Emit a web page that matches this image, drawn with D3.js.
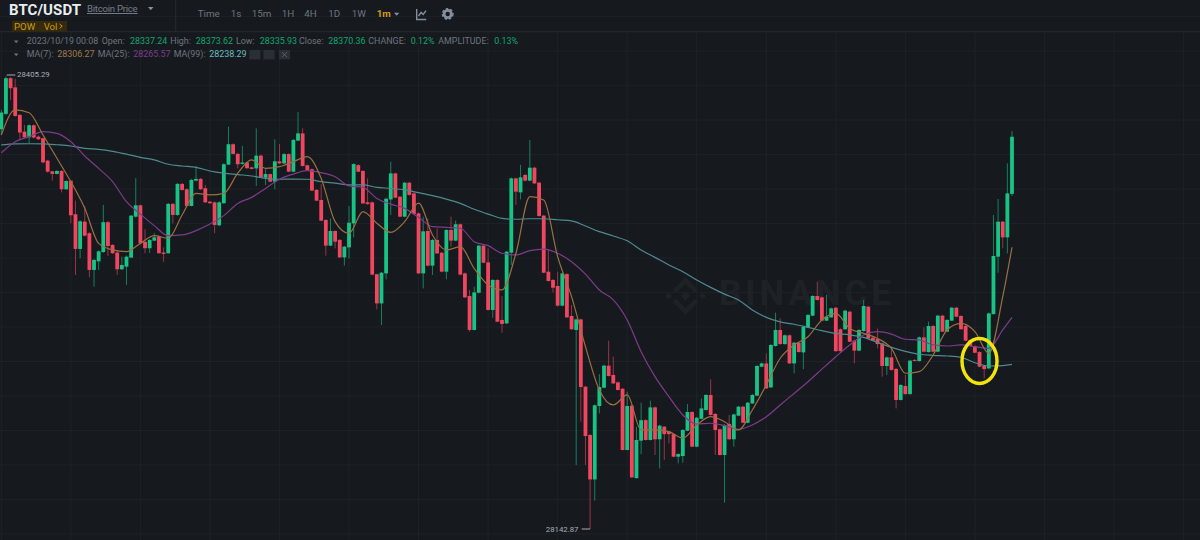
<!DOCTYPE html>
<html>
<head>
<meta charset="utf-8">
<script src="https://cdn.jsdelivr.net/npm/d3@7"></script>
<style>
  html, body { margin: 0; background: #161a1f; }
  text { font-family: Roboto, sans-serif; }
</style>
</head>
<body>
<div id="dataviz"></div>
<script>
// prices are stored as offsets above this base
const priceBase = 28000;
const highPrice = 28405.29, lowPrice = 28142.87;

const opens = [
  374.7,383.6,404.3,399,383,373.3,370,377,370.4,369.5,
  356.5,350.3,348.8,350.5,339.9,344.9,325.4,305.3,321.1,314.4,
  293.1,298.1,303.5,320.8,307.6,303.2,293.5,295,300.3,324,
  330.6,309.4,305.7,310.1,312.4,303.2,302.8,331.4,325,343,
  339.9,330.2,344.9,345.9,340.5,332.7,332.3,319,331.8,354.2,
  366,360.4,354.6,355.4,352.6,352,359.4,346.6,348.7,344.3,
  356.1,354.9,360.3,350.1,368.1,372.3,353.8,351.5,339.5,333.7,
  322.1,307.2,315.7,310.5,300.4,306.2,320.1,353.9,350.5,332.3,
  332.3,290.6,273.7,291.1,334,349.1,335.6,324,343.7,337.5,
  325.9,291.1,315.7,295.6,310.5,303.1,292.1,316.3,310.1,319.6,
  291.1,278,258.3,279.9,307.2,297.5,269.9,287.3,264.1,262.1,
  303.1,346.2,338.1,348.2,344.9,352.4,343.7,324.6,292.1,287.3,
  283.8,272.4,290.7,266.4,258.3,264.4,225.4,197.4,171.6,214.2,
  224.8,237.6,232.2,227.9,224.2,188.7,214.4,172.4,194.1,206,
  194.5,213.4,194.9,202.2,199.3,197.9,184.8,185.2,199.9,210.7,
  190.6,206.8,211.9,220.6,209.6,200.7,185.8,203.8,194.9,208.6,
  213.8,204.5,215.7,220.2,237,238.9,225,249,258.3,250.1,
  255.2,238.9,250.9,245.3,259.8,266.6,278,277.2,263.7,265.6,
  271.2,258.7,258.7,268.9,252.1,246.3,257.7,271.8,253.8,253,
  250.5,237.4,242.4,235.7,217.7,225.8,221.1,240.9,240.3,254,
  245.5,260.6,245.7,266.6,257.3,263.7,271.2,266.4,260.6,252.5,
  249,245.5,237.4,236,267.5,300.8,321.1,312,337.24
];
const closes = [
  384.4,404.3,398.5,382.4,372.8,370,377,369.9,368.9,355.5,
  350.1,348.8,350.5,339.9,344.7,324.8,305.3,321.3,313,293.1,
  298.9,303.9,320.8,307,302.8,293.5,296,300.8,324.6,330.6,
  308.6,305.7,310.5,312,302.8,302.4,331.4,325,343,339.5,
  330.2,345.3,345.9,339.9,332.3,331.8,319.2,332.3,354.4,366,
  360.4,354.4,355.4,352.1,351.7,359.4,346.8,348.7,344.3,356.1,
  354.9,360.3,350.1,368.5,372.3,353.4,351.1,339.1,333.3,321.7,
  307.2,315.7,309.5,300.4,306.6,320.5,354.5,350.1,331.7,331.3,
  290.4,273.7,291.5,334.4,349.1,335,324,343.7,336.6,325.5,
  291.1,315.5,295.6,310.5,302.7,292.1,316.3,310.1,319.6,290.4,
  277.2,258.3,280.1,307.2,297.3,269.9,287.3,263.1,261.8,303.7,
  346.2,338.5,346.8,344.9,352.4,343.3,324.4,291.5,286.7,282.8,
  272.4,291.1,265.6,258.7,264.4,225.2,196.8,171.6,214.6,225.2,
  237.6,231.6,227.3,223.5,188.7,214.2,172.8,194.5,206,194.5,
  213.4,194.9,202.8,197.9,197.9,184.8,186.3,200.3,210.7,190.6,
  207.4,212.8,220.6,209,200.3,185.8,203.2,194.9,209.3,213.8,
  204.5,216.1,220.6,237.4,238.9,224.4,249.6,258.3,250.1,255.2,
  238.9,250.9,245.5,260.2,267,278,275.7,263.7,266,270.8,
  246,246,269.5,251.5,246.3,258.3,272.2,253.4,252.1,250.1,
  237.4,242.4,235.1,217.7,226.4,221.1,240.5,240.5,254,245.7,
  260.6,245.7,266.6,257.3,264.1,271.2,266,258.7,252.1,249,
  245.1,237,235.6,267.9,301.2,321.1,312,337.5,370.36
];
const highs = [
  386,405.29,404.9,404,383.5,377.2,377.5,377.5,371,370,
  357,350.5,351,351,345,345,333.3,322,330.2,315,
  299.5,304.5,330.8,321.5,308,304,300.8,301.5,325,346.3,
  331,316.7,311,314.4,313,306.2,332,332,343.5,343.5,
  340.5,346,353.4,346.5,342.4,333,332.8,333,355,376.2,
  366.5,361,365,355.8,353,375.2,360,351.5,349,368.9,
  366.1,360.8,360.8,369,384.7,375.2,354.2,352,340,342.9,
  322.5,323,316,311,307,330.2,355,354.4,351,346.2,
  332.8,291,292,335,355.9,349.5,336,344.2,344.2,338,
  326.4,324,323,311,317.2,303.6,316.8,324,321.7,320,
  291.6,281.5,283.4,307.7,307.7,305.6,287.8,287.8,278,304.2,
  346.7,346.7,354,348.7,368.5,352.9,344.2,325,304.7,287.8,
  292.1,291.6,291.2,272.8,264.9,264.9,225.9,197.9,215.1,232.7,
  238.1,252.1,242.8,228.4,224.7,222.5,214.9,202.2,216.1,206.5,
  217.3,213.9,203.3,202.7,199.8,198.4,186.8,200.8,215.3,211.2,
  207.9,218.6,221.1,229.6,210.1,201.2,203.7,209,209.8,214.3,
  214.3,216.6,221.1,237.9,239.4,244.7,250.1,268.3,265,255.7,
  255.7,251.4,251.4,260.7,267.5,278.5,286.3,277.7,278.6,271.3,
  271.7,259.2,270,269.4,252.6,258.8,275.7,272.3,254.3,259.2,
  251,242.9,248.6,236.2,226.9,232.2,241,241.4,254.5,259.8,
  263.1,261.1,267.1,267.1,264.6,271.7,271.7,266.9,261.1,253,
  249.5,246,237.9,268.4,325,334.2,321.6,354.9,373.62
];
const lows = [
  371.4,383,391.7,382,368.5,369.5,366.6,369.4,368.5,355,
  349.5,344.9,348.5,338.1,339.5,320.2,290.2,299.9,312.5,288.9,
  283.4,293.1,303,301.2,302.5,290.2,293,284.4,300,323.5,
  308,302.8,303,310,302.5,297.9,302.5,320.2,324.5,339,
  329.5,330,344.5,339.5,332,331.5,314.4,318.5,331.5,354,
  360,352.1,354.2,351.8,351.5,341.8,346.5,342.4,344,339.9,
  354.5,354.5,349.8,349.8,367.8,353,350.8,338.8,333,321.4,
  301.4,307,305.6,300,295.6,299.8,312,349.8,331.4,331,
  290,270.2,261.2,287.7,325,334.7,323.7,323.7,336.2,325.2,
  290.8,282.4,295.2,290.2,302.4,291.8,287.7,306.6,309.8,290,
  276.8,257.3,258,279.5,297,269.6,265.4,262.8,256.7,261.8,
  296,330.8,334,344.5,344.5,343,324,291.2,286.4,279.9,
  272,272,265.3,258.4,180,205.1,180,142.87,159.3,209.9,
  224.5,231.3,227,223.2,188.4,188.4,172.5,172,186.3,194.2,
  194.2,185.8,178,182.9,192.5,184.5,180.9,181.3,199.6,190.3,
  190.3,206.5,211.6,208.7,185.8,185.5,158.1,194.6,190.6,208.3,
  204.2,204.2,215.4,219.9,236.7,224.1,224.7,248.7,249.8,249.8,
  238.6,233.1,245.2,235.6,259.5,266.3,275.4,263.4,263.4,265.3,
  245.7,245.7,258.4,251.2,238.9,246,257.4,253.1,251.8,247.6,
  231.2,232.2,234.8,212.8,217.4,220.8,220.8,240.2,240,245.4,
  245.2,245.4,245.4,257,257,263.4,265.7,258.4,251.8,248.7,
  244.8,236.7,230.2,235.7,267.2,291.5,305.6,302.7,335.93
];

const maIndex = d3.range(0, 217, 3).concat([218]);
const ma7 = [
  371.4,385.9,384.3,371.4,357.9,344.3,328.9,308.5,304.7,303.7,308.5,313,311.4,325,337.5,336.6,337.5,349.2,356.9,
  352,353,355.9,358.8,346.2,321.1,314.3,326.9,320.2,314.9,321.1,331.8,313.4,304.7,306.6,294,284.4,281.5,
  302.7,335.6,333.7,300.8,277.6,248.6,223.5,214.8,220.6,200.3,200.3,199.3,195.5,203.2,208,205.1,200.3,211.9,
  226.4,241.9,249.6,254.4,264.1,267.9,259.2,256.3,253.4,247.6,233.2,234.1,243.8,258.3,262.1,257.3,244.7,277.6,
  306.27
];
const ma25 = [
  361.1,367.5,370.4,373.3,372.3,367.5,359.2,352,344.3,332.7,325.5,318.8,313,313.4,315.9,319.7,324.6,331.7,335.2,
  340.4,345.7,348.7,350.7,349.5,347.2,341.8,341,334.6,331.3,328.8,323.6,318.2,317.8,317.3,309.5,307.2,302.8,
  301.8,304.3,305.2,302.8,297.9,290.7,281.5,275.7,264.1,245.7,231.2,219.6,209,203.7,204.2,202.8,200.7,203.2,
  208,214.8,221.5,228.3,235.6,242.8,249.6,255.4,257.3,255.9,252.9,252.5,249.6,249,249.6,248.6,247.6,258.3,
  265.57
];
const ma99 = [
  365.6,366.2,366.3,366.2,365.7,365,363.6,363,361.9,360.3,358.4,356.9,354.4,353.4,352.6,350.5,349.2,348.4,347.6,
  346.2,345.7,345.8,345.7,344.3,343.4,342.4,342.4,341,340.4,339.5,337.9,336.2,334.2,331.7,328.3,325.5,323,
  322.5,322.8,322.8,322.2,321.6,318.6,315.3,312.8,310,304.7,300.4,296,292.1,287.3,283,279.1,275.7,269.9,
  265.6,263,261.6,259.8,257.9,256.3,255.5,254,251.1,248.2,245.9,244.2,243.6,243.2,242.4,239.3,237.4,237.6,
  238.29
];

const toolbarLabels = ["Time", "1s", "15m", "1H", "4H", "1D", "1W", "1m"];
const toolbarX = [197.7, 230.7, 251.7, 281.7, 304.3, 328.3, 351.7, 376.7];

const green = "#18c485", red = "#f0465f", greyText = "#6f757e", valueGreen = "#14a56f";
const ma7Color = "#9a7043", ma25Color = "#7e3b8a", ma99Color = "#4f8a8e";
const gridColor = "#1e2227", lineColor = "#262a31";

const width = 1200, height = 540;
const svg = d3.select("#dataviz").append("svg")
    .attr("width", width).attr("height", height)
    .style("display", "block").style("background", "#161a1f");

const x = d3.scaleLinear().domain([0, 218]).range([1.3, 1012]);
const y = d3.scaleLinear().domain([lowPrice, highPrice]).range([529, 76.5]);
const candles = opens.map((o, i) => ({
  i, open: priceBase + o, close: priceBase + closes[i],
  high: priceBase + highs[i], low: priceBase + lows[i]
}));

// grid: a line every 15 candles and every 20 USD
svg.append("g").selectAll("line").data(d3.range(0, 270, 15)).join("line")
    .attr("x1", d => x(d)).attr("x2", d => x(d)).attr("y1", 32).attr("y2", height)
    .attr("stroke", gridColor);
svg.append("g").selectAll("line").data(d3.range(28120, 28460, 20)).join("line")
    .attr("x1", 0).attr("x2", width).attr("y1", d => y(d)).attr("y2", d => y(d))
    .attr("stroke", gridColor);

// watermark
const mark = svg.append("g").attr("fill", "#1e2227");
mark.append("text").attr("x", 719).attr("y", 305).attr("font-size", 35).attr("font-weight", 700)
    .attr("textLength", 172).attr("lengthAdjust", "spacing").text("BINANCE");
const logoX = 685.5, logoY = 296;
[[-17, 0, 3.6], [17, 0, 3.6], [0, 0, 4.8]].forEach(([dx, dy, r]) => {
  const cx = logoX + dx, cy = logoY + dy;
  mark.append("path").attr("d", `M${cx} ${cy - r}L${cx + r} ${cy}L${cx} ${cy + r}L${cx - r} ${cy}Z`);
});
[-1, 1].forEach(s => {
  mark.append("path")
      .attr("d", `M${logoX - 11} ${logoY + s * 4.5}L${logoX} ${logoY + s * 15.5}L${logoX + 11} ${logoY + s * 4.5}`)
      .attr("fill", "none").attr("stroke", "#1e2227").attr("stroke-width", 5);
});

// candles
const color = d => d.close >= d.open ? green : red;
svg.append("g").selectAll("line").data(candles).join("line")
    .attr("x1", d => x(d.i)).attr("x2", d => x(d.i))
    .attr("y1", d => y(d.high)).attr("y2", d => y(d.low))
    .attr("stroke", color).attr("stroke-width", 1).attr("stroke-opacity", 0.6);
svg.append("g").selectAll("rect").data(candles).join("rect")
    .attr("x", d => x(d.i) - 1.9).attr("width", 3.8)
    .attr("y", d => y(Math.max(d.open, d.close)))
    .attr("height", d => Math.max(1, Math.abs(y(d.open) - y(d.close))))
    .attr("fill", color);

// moving averages
const maLine = d3.line()
    .x((d, i) => x(maIndex[i]))
    .y(d => y(priceBase + d))
    .curve(d3.curveMonotoneX);
[[ma99, ma99Color], [ma25, ma25Color], [ma7, ma7Color]].forEach(([values, stroke]) => {
  svg.append("path").attr("d", maLine(values))
      .attr("fill", "none").attr("stroke", stroke).attr("stroke-width", 1.2);
});

// high / low markers
const markers = svg.append("g").attr("font-size", 7.8).attr("fill", "#a9aeb6");
markers.append("line").attr("x1", 6.7).attr("x2", 15.3).attr("y1", 75).attr("y2", 75).attr("stroke", "#a9aeb6");
markers.append("text").attr("x", 17).attr("y", 77.3).text(highPrice);
markers.append("line").attr("x1", 581.7).attr("x2", x(127)).attr("y1", y(lowPrice)).attr("y2", y(lowPrice)).attr("stroke", "#a9aeb6");
markers.append("text").attr("x", 578.5).attr("y", 531.7).attr("text-anchor", "end").text(lowPrice);

// header
const head = svg.append("g");
head.append("line").attr("x1", 0).attr("x2", width).attr("y1", 31.7).attr("y2", 31.7).attr("stroke", lineColor);
head.append("line").attr("x1", 175.7).attr("x2", 175.7).attr("y1", 0).attr("y2", 31.7).attr("stroke", lineColor);
head.append("text").attr("x", 9).attr("y", 14.7).attr("font-size", 15).attr("font-weight", 700)
    .attr("textLength", 72).attr("fill", "#eaecef").text("BTC/USDT");
head.append("text").attr("x", 87).attr("y", 12).attr("font-size", 9.6).attr("textLength", 50.6)
    .attr("fill", "#767d87").attr("text-decoration", "underline").text("Bitcoin Price");
head.append("path").attr("d", "M148 7h5.5l-2.75 3.3Z").attr("fill", "#848e9c");
head.append("rect").attr("x", 12).attr("y", 21).attr("width", 55).attr("height", 10.7).attr("fill", "#352a0d");
head.append("text").attr("x", 14).attr("y", 29.5).attr("font-size", 9.6).attr("fill", "#cf9c12").text("POW");
head.append("text").attr("x", 43.7).attr("y", 29.5).attr("font-size", 9.6).attr("fill", "#cf9c12").text("Vol");
head.append("path").attr("d", "M59.6 24l2.6 2.2-2.6 2.2").attr("fill", "none").attr("stroke", "#cf9c12");

head.selectAll(".tb").data(toolbarLabels).join("text").attr("class", "tb")
    .attr("x", (d, i) => toolbarX[i]).attr("y", 17.3).attr("font-size", 9.8)
    .attr("font-weight", d => d === "1m" ? 700 : 400)
    .attr("fill", d => d === "1m" ? "#cf9c12" : "#6f757e").text(d => d);
head.append("path").attr("d", "M394 12.7h5.3l-2.65 3Z").attr("fill", "#848e9c");
head.append("path").attr("d", "M416.7 9v10.5h9.5M418.5 16l2.7-3.6 2 2 2.8-3.8").attr("fill", "none")
    .attr("stroke", "#848e9c").attr("stroke-width", 1.4);
head.append("circle").attr("cx", 447.7).attr("cy", 14).attr("r", 3.6).attr("fill", "none").attr("stroke", "#848e9c").attr("stroke-width", 2.8);
head.append("circle").attr("cx", 447.7).attr("cy", 14).attr("r", 5.2).attr("fill", "none").attr("stroke", "#848e9c")
    .attr("stroke-width", 1.6).attr("stroke-dasharray", "2.4 2");

// info rows: label/value pieces
const row1 = [
  ["2023/10/19 00:08", 26.7, greyText], ["Open:", 101.7, greyText], ["28337.24", 130, valueGreen],
  ["High:", 170.3, greyText], ["28373.62", 195.7, valueGreen], ["Low:", 236, greyText], ["28335.93", 259.7, valueGreen],
  ["Close:", 299, greyText], ["28370.36", 328.3, valueGreen], ["CHANGE:", 368.3, greyText], ["0.12%", 410.7, valueGreen],
  ["AMPLITUDE:", 438.3, greyText], ["0.13%", 494.3, valueGreen]
];
const row2 = [
  ["MA(7):", 26.7, greyText], ["28306.27", 57.3, "#a07a48"], ["MA(25):", 97.7, greyText], ["28265.57", 133.3, ma25Color],
  ["MA(99):", 173.7, greyText], ["28238.29", 209.3, "#67bcbf"]
];
[[row1, 44.3, 42], [row2, 57.3, 55]].forEach(([row, base, mid]) => {
  head.append("path").attr("d", `M14 ${mid - 1.4}h4.4l-2.2 2.7Z`).attr("fill", "#6f757e");
  row.forEach(([t, px, fill]) => {
    head.append("text").attr("x", px).attr("y", base).attr("font-size", 8.9).attr("fill", fill).text(t);
  });
});
[249.3, 263.5, 279].forEach(px => {
  head.append("rect").attr("x", px).attr("y", 50).attr("width", 11).attr("height", 9.4).attr("fill", "#2a2e35");
});
head.append("path").attr("d", "M282 52.2l5 5M287 52.2l-5 5").attr("stroke", "#5c626b");

// hand-drawn circle on top
svg.append("ellipse").attr("cx", 979.5).attr("cy", 361).attr("rx", 17.5).attr("ry", 22.5)
    .attr("fill", "none").attr("stroke", "#f2e40c").attr("stroke-width", 3.4);
</script>
</body>
</html>
